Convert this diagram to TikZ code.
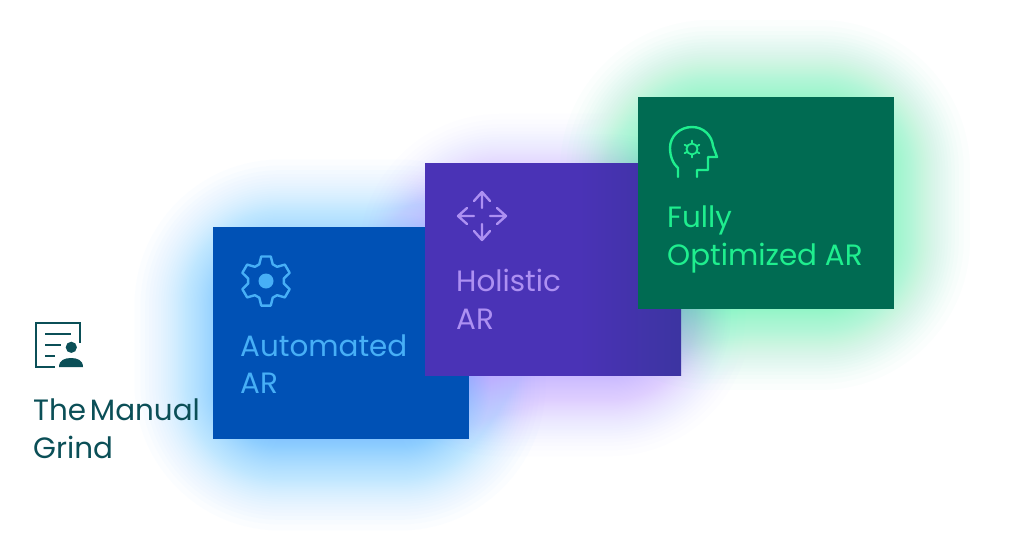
\documentclass[tikz,border=0pt]{standalone}
\usepackage{fontspec}
\setmainfont{Poppins}
\definecolor{bluebox}{HTML}{0051B5}
\definecolor{purplebox}{HTML}{4A33B6}
\definecolor{purpleend}{HTML}{3A349E}
\definecolor{greenbox}{HTML}{006B52}
\definecolor{bluetxt}{HTML}{47AFF6}
\definecolor{purpletxt}{HTML}{AD90F2}
\definecolor{greentxt}{HTML}{1FEE8E}
\definecolor{darktxt}{HTML}{0B4F57}
\definecolor{blueglow}{HTML}{5CC4FF}
\definecolor{purpleglow}{HTML}{BC9CFF}
\definecolor{greenglow}{HTML}{50F5AC}
\pgfdeclarehorizontalshading{cardshade}{100bp}{
  color(0bp)=(purplebox); color(55bp)=(purplebox); color(78bp)=(purpleend); color(100bp)=(purpleend)}
\tikzset{
  label/.style={anchor=base west,inner sep=0pt,font=\fontsize{29.4}{30}\selectfont},
  card/.style={anchor=north west,inner sep=0pt,minimum width=256pt,minimum height=212pt,draw=none},
  icon/.style={line width=2.4pt,line cap=round,line join=round}
}
% glow: x1,y1,x2,y2,colour,radius
\newcommand{\myglow}[6]{%
  \foreach \i in {1,...,80}{%
    \pgfmathsetmacro{\dd}{#6*(1-sqrt(\i/80))}%
    \pgfmathsetmacro{\rr}{\dd+30}%
    \fill[#5,opacity=0.018,rounded corners=\rr pt]
      (#1-\dd,#2-\dd) rectangle (#3+\dd,#4+\dd);%
  }%
}
\begin{document}
\begin{tikzpicture}[x=1pt,y=-1pt]
\useasboundingbox (0,0) rectangle (1024,558);
\fill[white] (0,0) rectangle (1024,558);
% glows
\myglow{250}{275}{430}{415}{blueglow}{130}
\myglow{470}{225}{640}{345}{purpleglow}{125}
\myglow{680}{140}{850}{270}{greenglow}{135}
% cards
\node[card,minimum width=255.5pt,fill=bluebox] (auto) at (213,227) {};
\node[card,shading=cardshade] (holi) at (425,163) {};
\node[card,fill=greenbox] (full) at (638,97) {};
% labels
\node[label,text=darktxt] (t1) at (33,420) {The\hspace{-4pt} Manual};
\node[label,text=darktxt] (t1b) at (33,458) {Grind};
\node[label,text=bluetxt] (t2) at (240,356) {Automated};
\node[label,text=bluetxt] (t2b) at (240,393) {AR};
\node[label,text=purpletxt] (t3) at (456,291) {Holistic};
\node[label,text=purpletxt] (t3b) at (456,329) {AR};
\node[label,text=greentxt] (t4) at (667,227) {Fully};
\node[label,text=greentxt] (t4b) at (667,265) {Optimized AR};
% document icon
\begin{scope}[darktxt]
\draw[line width=2.2pt] (80,343) -- (80,323) -- (36,323) -- (36,367) -- (55,367);
\draw[line width=2.2pt] (45,334) -- (71,334) (45,345) -- (61,345) (45,356) -- (55,356);
\fill (71.3,347.3) circle (5.6);
\fill (59,367) .. controls (59,360) and (65,358) .. (71,358) .. controls (77,358) and (83,360) .. (83,367) -- cycle;
\end{scope}
% gear icon
\begin{scope}[shift={(266,281)},bluetxt]
\fill (0,0) circle (7.5);
\draw[icon] (69:18) \foreach \a in {90,150,...,390}{ -- (\a-22:18) -- (\a-11:25) -- (\a+11:25) -- (\a+22:18)} -- cycle;
\end{scope}
% arrows icon
\begin{scope}[shift={(482,216)},purpletxt,icon]
\draw (0,-8) -- (0,-23) (-8,-15) -- (0,-24) -- (8,-15);
\draw (0,8) -- (0,23) (-8,15) -- (0,24) -- (8,15);
\draw (-8,0) -- (-23,0) (-15,-8) -- (-24,0) -- (-15,8);
\draw (8,0) -- (23,0) (15,-8) -- (24,0) -- (15,8);
\end{scope}
% head icon
\begin{scope}[greentxt,icon]
\draw (678,177) -- (678,168) .. controls (673,164) and (670,156) .. (670,148)
  .. controls (670,136) and (680,127) .. (692,127)
  .. controls (704,127) and (712,136) .. (713,146)
  -- (717,157) -- (708,157) -- (708,170) -- (697,170) -- (697,177);
\begin{scope}[shift={(692,149)},line width=1.8pt]
\draw (0,0) circle (5.5);
\foreach \a in {30,90,...,330}{\draw (\a:5.5) -- (\a:8.5);}
\end{scope}
\end{scope}
\end{tikzpicture}
\end{document}
